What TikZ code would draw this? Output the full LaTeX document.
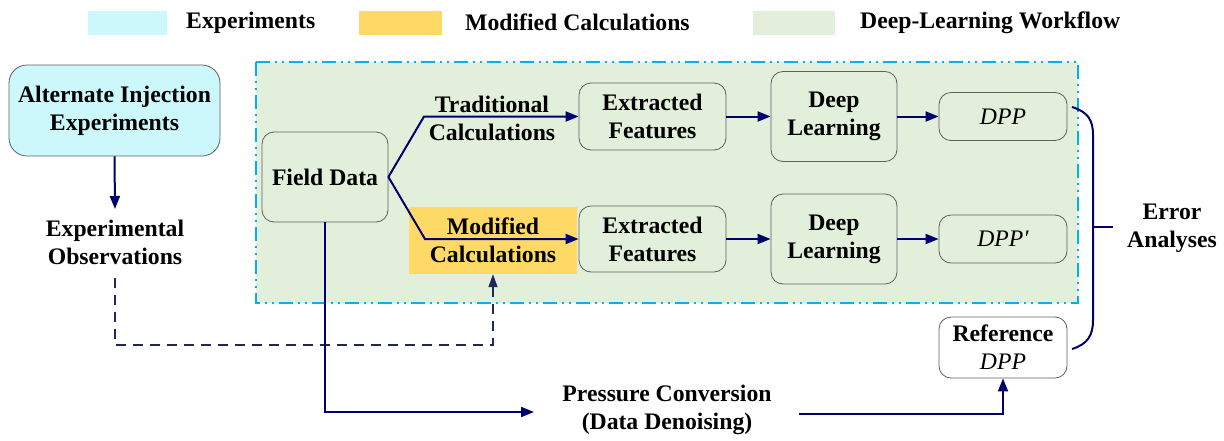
\documentclass[tikz,border=0pt]{standalone}
\usepackage{fontspec}
\setmainfont{Liberation Serif}
\usetikzlibrary{arrows.meta}
\definecolor{expcyan}{RGB}{204,248,252}
\definecolor{modyel}{RGB}{255,217,102}
\definecolor{dlgreen}{RGB}{226,239,218}
\definecolor{framecyan}{RGB}{0,176,240}
\definecolor{navy}{RGB}{0,0,110}
\definecolor{dashnavy}{RGB}{31,40,90}
\definecolor{boxgray}{RGB}{95,95,95}
\tikzset{
  txt/.style={font=\bfseries\fontsize{23.7}{28}\selectfont, align=center, inner sep=2pt},
  box/.style={txt, draw=boxgray, line width=0.8pt, rounded corners=12pt},
  greenbox/.style={box, fill=dlgreen},
  itbox/.style={greenbox, font=\mdseries\itshape\fontsize{23.7}{28}\selectfont},
  arr/.style={draw=navy, line width=2pt, -{Triangle[length=13pt,width=10pt]}},
  plainline/.style={draw=navy, line width=2pt},
  dsh/.style={draw=dashnavy, line width=1.6pt, dash pattern=on 10pt off 7pt, -{Triangle[length=13pt,width=9pt]}},
  frame/.style={draw=framecyan, line width=2pt, fill=dlgreen, dash pattern=on 14pt off 5pt on 2pt off 5pt on 2pt off 5pt},
  legtxt/.style={txt, anchor=west},
}
\begin{document}
\begin{tikzpicture}[x=1pt,y=-1pt]
\useasboundingbox (0,0) rectangle (1224,440);
% legend
\fill[expcyan] (88,10.5) rectangle (167,35);
\node[legtxt] (l1) at (184,22.5) {Experiments};
\fill[modyel] (359,10.5) rectangle (442,35);
\node[legtxt] (l2) at (463,22.5) {Modified Calculations};
\fill[dlgreen] (753,10.5) rectangle (835,35);
\node[legtxt] (l3) at (858,22.5) {Deep-Learning Workflow};
% workflow frame
\draw[frame] (256,62) rectangle (1078,303);
% nodes
\node[box, fill=expcyan, rounded corners=18pt, minimum width=211pt, minimum height=91pt] (aie) at (114.5,110.5) {Alternate Injection\\Experiments};
\node[txt] (obs) at (115,242) {Experimental\\Observations};
\node[greenbox, minimum width=126pt, minimum height=90pt] (fd) at (325,177) {Field Data};
\node[txt] (tc) at (492,118) {Traditional\\Calculations};
\node[txt, fill=modyel, minimum width=168pt, minimum height=67pt] (mc) at (493,240.5) {Modified\\Calculations};
\node[greenbox, minimum width=147pt, minimum height=67pt] (ef1) at (652.5,116.5) {Extracted\\Features};
\node[greenbox, minimum width=147pt, minimum height=66pt] (ef2) at (652.5,239) {Extracted\\Features};
\node[greenbox, minimum width=126pt, minimum height=90pt] (dl1) at (834,116.5) {Deep\\Learning};
\node[greenbox, minimum width=126pt, minimum height=90pt] (dl2) at (834,239) {Deep\\Learning};
\node[itbox, minimum width=128pt, minimum height=48pt] (dpp1) at (1003,116.5) {DPP};
\node[itbox, minimum width=128pt, minimum height=48pt] (dpp2) at (1003,239) {DPP′};
\node[box, fill=white, minimum width=128pt, minimum height=61pt] (ref) at (1003,347.5) {Reference\\\mdseries\itshape DPP};
\node[txt] (pc) at (667,410) {Pressure Conversion\\(Data Denoising)};
\node[txt] (ea) at (1172,228) {Error\\Analyses};
% coordinates
\coordinate (b1) at (424,116.5);
\coordinate (b2) at (425,239);
\coordinate (obsin) at (115,209);
\coordinate (obsout) at (115,278);
\coordinate (d1) at (115,345);
\coordinate (pcin) at (534,412);
\coordinate (pcout) at (799,414);
\coordinate (br1) at (1072,107);
\coordinate (br2) at (1072,349);
\coordinate (bm) at (1093,227);
\coordinate (tick) at (1113,227);
% connectors
\draw[arr] (fd.east) -- (b1) -- (ef1.west);
\draw[arr] (fd.east) -- (b2) -- (ef2.west);
\draw[arr] (ef1) -- (dl1);
\draw[arr] (ef2) -- (dl2);
\draw[arr] (dl1) -- (dpp1);
\draw[arr] (dl2) -- (dpp2);
\draw[arr] (aie.south) -- (obsin);
\draw[dsh] (obsout) -- (d1) -| (mc.south);
\draw[arr] (fd.south) |- (pcin);
\draw[arr] (pcout) -| (ref.south);
\draw[plainline] (br1) .. controls (1088,112) and (1093,120) .. (1093,135) -- (1093,320) .. controls (1093,335) and (1088,344) .. (br2);
\draw[plainline] (bm) -- (tick);
\end{tikzpicture}
\end{document}
